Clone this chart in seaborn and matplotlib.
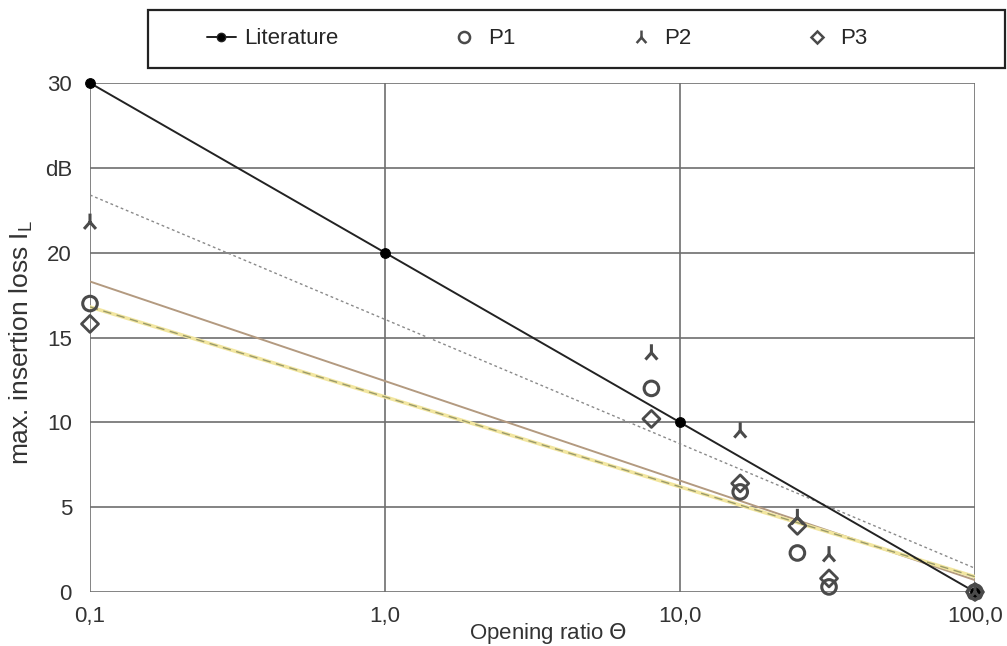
import matplotlib
matplotlib.use("Agg")
import matplotlib.pyplot as plt
from matplotlib.lines import Line2D
from matplotlib.patches import Rectangle
from matplotlib.path import Path
import seaborn as sns
import pandas as pd

# literature reference
theta_lit = [0.1, 1.0, 10.0, 100.0]
il_lit = [30, 20, 10, 0]

# measured points
theta_meas = [0.1, 8, 16, 25, 32, 100]
il_p1 = [17.0, 12.0, 5.9, 2.3, 0.3, 0.0]
il_p2 = [21.8, 14.1, 9.5, 4.4, 2.2, 0.0]
il_p3 = [15.8, 10.2, 6.4, 3.9, 0.8, 0.0]

# trend lines (end points)
theta_fit = [0.1, 100.0]
fit_p1 = [18.3, 0.7]
fit_p2 = [23.4, 1.4]
fit_p3 = [16.8, 0.9]

y_ticks = [0, 5, 10, 15, 20, 25, 30]
y_ticklabels = ["0", "5", "10", "15", "20", "dB", "30"]
x_ticks = [0.1, 1, 10, 100]
x_ticklabels = ["0,1", "1,0", "10,0", "100,0"]

sns.set_style("white")
plt.rcParams["font.family"] = ["Liberation Sans", "DejaVu Sans"]

# "人"-like marker for P2
tri = Path([(0, 0), (0, 1), (0, 0), (-0.7, -0.8), (0, 0), (0.7, -0.8)],
           [Path.MOVETO, Path.LINETO, Path.MOVETO, Path.LINETO,
            Path.MOVETO, Path.LINETO])

fig = plt.figure(figsize=(10.07, 6.46), dpi=100)
ax = fig.add_axes([90 / 1007, 1 - 592 / 646, 885 / 1007, 509 / 646])
ax.set_xscale("log")

grid_c = "#6e6e6e"
for y in y_ticks:
    ax.axhline(y, color=grid_c, lw=1.2, zorder=0)
for x in x_ticks:
    ax.axvline(x, color=grid_c, lw=1.2, zorder=0)

# trend lines
sns.lineplot(x=theta_fit, y=fit_p2, ax=ax, color="#8a8a8a", lw=1.0,
             linestyle=(0, (2, 2)), zorder=2)
sns.lineplot(x=theta_fit, y=fit_p1, ax=ax, color="#b39a80", lw=1.4, zorder=2)
sns.lineplot(x=theta_fit, y=fit_p3, ax=ax, color="#f2e6a0", lw=2.6, zorder=2)
sns.lineplot(x=theta_fit, y=fit_p3, ax=ax, color="#9a9a6a", lw=1.0,
             linestyle=(0, (6, 4)), zorder=2)

# literature
sns.lineplot(x=theta_lit, y=il_lit, ax=ax, color="#222222", lw=1.4,
             marker="o", markersize=7, markerfacecolor="black",
             markeredgecolor="black", zorder=3, clip_on=False)

mk_c = "#4a4a4a"
df = pd.DataFrame({"theta": theta_meas, "P1": il_p1, "P2": il_p2, "P3": il_p3})
sns.scatterplot(data=df, x="theta", y="P1", ax=ax, marker="o", s=110,
                facecolor="none", edgecolor=mk_c, linewidth=2.2, zorder=4,
                clip_on=False)
sns.scatterplot(data=df, x="theta", y="P3", ax=ax, marker="D", s=75,
                facecolor="none", edgecolor=mk_c, linewidth=2.0, zorder=4,
                clip_on=False)
sns.scatterplot(data=df, x="theta", y="P2", ax=ax, marker=tri, s=150,
                facecolor="none", edgecolor=mk_c, linewidth=2.2, zorder=4,
                clip_on=False)

ax.set_xlim(0.1, 100)
ax.set_ylim(0, 30)
ax.set_xticks(x_ticks)
ax.set_xticklabels(x_ticklabels)
ax.set_yticks(y_ticks)
ax.set_yticklabels(y_ticklabels)
ax.minorticks_off()
ax.tick_params(axis="both", labelsize=16, colors="#333333", length=0)
ax.tick_params(axis="y", pad=13)
ax.tick_params(axis="x", pad=10)
for s in ax.spines.values():
    s.set_visible(False)

ax.set_xlabel(r"Opening ratio $\mathit{\Theta}$", fontsize=16, color="#333333")
ax.xaxis.set_label_coords(0.517, -0.056)
ax.set_ylabel(r"max. insertion loss I$_\mathregular{L}$", fontsize=19, color="#333333")
ax.yaxis.set_label_coords(-0.062, 0.49)

# legend box
fig.patches.append(Rectangle((148 / 1007, 1 - 68 / 646), 857 / 1007, 58 / 646,
                             transform=fig.transFigure, fill=False,
                             edgecolor="#222222", lw=1.6))
handles = [
    Line2D([], [], color="#222222", lw=1.4, marker="o", markersize=6,
           markerfacecolor="black"),
    Line2D([], [], ls="none", marker="o", markersize=8, markerfacecolor="none",
           markeredgecolor=mk_c, markeredgewidth=1.8),
    Line2D([], [], ls="none", marker=tri, markersize=10, markerfacecolor="none",
           markeredgecolor=mk_c, markeredgewidth=1.8),
    Line2D([], [], ls="none", marker="D", markersize=6, markerfacecolor="none",
           markeredgecolor=mk_c, markeredgewidth=1.8),
]
fig.legend(handles, ["Literature", "P1", "P2", "P3"], ncol=4, frameon=False,
           loc="center", bbox_to_anchor=(537 / 1007, 1 - 39 / 646),
           fontsize=16, handlelength=1.3, handletextpad=0.4, columnspacing=5.0)

fig.savefig("out.png", dpi=100)
